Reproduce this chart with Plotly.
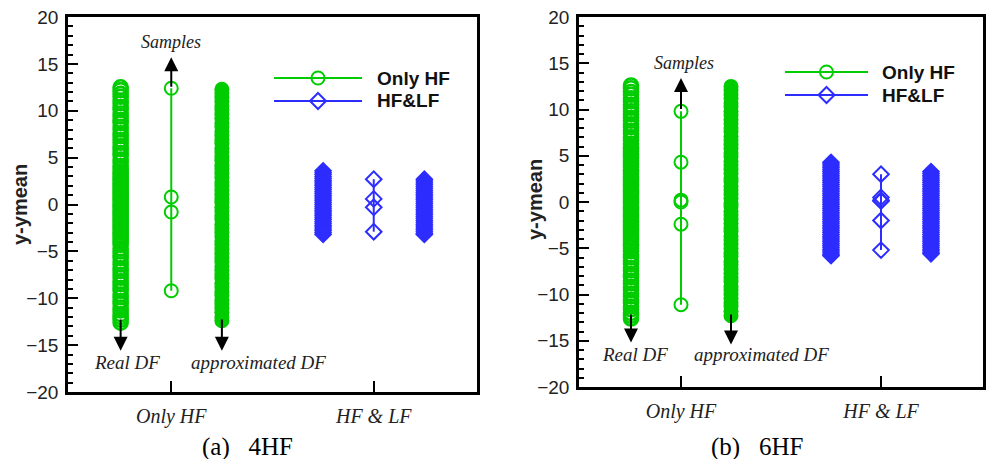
import plotly.graph_objects as go

W, H = 989, 459
def px(x): return x / W
def py(y): return 1 - y / H

GREEN = '#00cc00'
BLUE = '#2d2dff'

# category axis
cat_vals = [1, 2]
cat_text = ['Only HF', 'HF &amp; LF']
# sub-positions within categories
POS_REAL, POS_SAMP_HF, POS_APPROX = 0.75, 1.0, 1.25
POS_BLUE_L, POS_SAMP_LF, POS_BLUE_R = 1.75, 2.0, 2.25

# ---------- panel (a) 4HF ----------
real_a = [12.5, 12.2, 11.8, 11.5, 11.1, 10.8, 10.4, 10.1, 9.7, 9.4, 9.0, 8.7, 8.3, 8.0, 7.6,
          7.3, 6.9, 6.6, 6.2, 5.9, 5.5, 5.2, 4.8, 4.5, 4.1, 3.8, 3.5,
          3.25, 3.0, 2.75, 2.5, 2.25, 2.0, 1.75, 1.5, 1.25, 1.0, 0.75, 0.5, 0.25, 0.0,
          -0.25, -0.5, -0.75, -1.0, -1.25, -1.5, -1.75, -2.0, -2.25, -2.5, -2.75, -3.0,
          -3.25, -3.5, -3.75, -4.0,
          -4.3, -4.7, -5.0, -5.4, -5.7, -6.1, -6.4, -6.8, -7.1, -7.5, -7.8, -8.2, -8.5,
          -8.9, -9.2, -9.6, -9.9, -10.3, -10.6, -11.0, -11.3, -11.7, -12.0, -12.3, -12.6]
approx_a = [12.3, 11.9, 11.4, 11.0, 10.5, 10.1, 9.6, 9.2, 8.7, 8.3, 7.8, 7.4, 6.9, 6.5, 6.0,
            5.6, 5.1, 4.7, 4.2, 3.8, 3.3, 2.9, 2.4, 2.0, 1.5, 1.1, 0.6, 0.2, -0.3, -0.7, -1.2,
            -1.6, -2.1, -2.5, -3.0, -3.4, -3.9, -4.3, -4.8, -5.2, -5.7, -6.1, -6.6, -7.0, -7.5,
            -7.9, -8.4, -8.8, -9.3, -9.7, -10.2, -10.6, -11.1, -11.5, -12.0, -12.4]
samp_hf_a = [12.4, 0.8, -0.8, -9.2]
blue_l_a = [3.6, 3.4, 3.2, 3.0, 2.8, 2.6, 2.4, 2.2, 2.0, 1.8, 1.6, 1.4, 1.2, 1.0, 0.8, 0.6,
            0.4, 0.2, 0.0, -0.2, -0.4, -0.6, -0.8, -1.0, -1.2, -1.4, -1.6, -1.8, -2.0, -2.2,
            -2.4, -2.6, -2.8, -3.0, -3.2]
samp_lf_a = [2.7, 0.6, -0.3, -2.9]
blue_r_a = [2.7, 2.5, 2.3, 2.1, 1.9, 1.7, 1.5, 1.3, 1.1, 0.9, 0.7, 0.5, 0.3, 0.1, -0.1, -0.3,
            -0.5, -0.7, -0.9, -1.1, -1.3, -1.5, -1.7, -1.9, -2.1, -2.3, -2.5, -2.7, -2.9,
            -3.1, -3.2]

# ---------- panel (b) 6HF ----------
real_b = [12.6, 12.3, 11.9, 11.6, 11.2, 10.9, 10.5, 10.2, 9.8, 9.5, 9.1, 8.8, 8.4, 8.1, 7.7,
          7.4, 7.0, 6.7, 6.3, 6.0,
          5.75, 5.5, 5.25, 5.0, 4.75, 4.5, 4.25, 4.0, 3.75, 3.5, 3.25, 3.0, 2.75, 2.5, 2.25,
          2.0, 1.75, 1.5, 1.25, 1.0, 0.75, 0.5, 0.25, 0.0, -0.25, -0.5, -0.75, -1.0, -1.25,
          -1.5, -1.75, -2.0, -2.25, -2.5, -2.75, -3.0, -3.25, -3.5, -3.75, -4.0, -4.25,
          -4.5, -4.75, -5.0,
          -5.3, -5.7, -6.0, -6.4, -6.7, -7.1, -7.4, -7.8, -8.1, -8.5, -8.8, -9.2, -9.5,
          -9.9, -10.2, -10.6, -10.9, -11.3, -11.6, -12.0, -12.3, -12.6]
approx_b = [12.5, 12.1, 11.6, 11.2, 10.7, 10.3, 9.8, 9.4, 8.9, 8.5, 8.0, 7.6, 7.1, 6.7, 6.2,
            5.8, 5.3, 4.9, 4.4, 4.0, 3.5, 3.1, 2.6, 2.2, 1.7, 1.3, 0.8, 0.4, -0.1, -0.5, -1.0,
            -1.4, -1.9, -2.3, -2.8, -3.2, -3.7, -4.1, -4.6, -5.0, -5.5, -5.9, -6.4, -6.8, -7.3,
            -7.7, -8.2, -8.6, -9.1, -9.5, -10.0, -10.4, -10.9, -11.3, -11.8, -12.3]
samp_hf_b = [9.8, 4.3, 0.2, 0.0, -2.4, -11.1]
blue_l_b = [4.3, 4.1, 3.9, 3.7, 3.5, 3.3, 3.1, 2.9, 2.7, 2.5, 2.3, 2.1, 1.9, 1.7, 1.5, 1.3,
            1.1, 0.9, 0.7, 0.5, 0.3, 0.1, -0.1, -0.3, -0.5, -0.7, -0.9, -1.1, -1.3, -1.5,
            -1.7, -1.9, -2.1, -2.3, -2.5, -2.7, -2.9, -3.1, -3.3, -3.5, -3.7, -3.9, -4.1,
            -4.3, -4.5, -4.7, -4.9, -5.1, -5.3, -5.5, -5.7, -5.8]
samp_lf_b = [3.0, 0.5, 0.2, 0.1, -2.0, -5.2]
blue_r_b = [3.3, 3.1, 2.9, 2.7, 2.5, 2.3, 2.1, 1.9, 1.7, 1.5, 1.3, 1.1, 0.9, 0.7, 0.5, 0.3,
            0.1, -0.1, -0.3, -0.5, -0.7, -0.9, -1.1, -1.3, -1.5, -1.7, -1.9, -2.1, -2.3,
            -2.5, -2.7, -2.9, -3.1, -3.3, -3.5, -3.7, -3.9, -4.1, -4.3, -4.5, -4.7, -4.9,
            -5.1, -5.3, -5.5, -5.6]

y_ticks = [-20, -15, -10, -5, 0, 5, 10, 15, 20]

fig = go.Figure()

def add_panel(xa, ya, real, approx, samp_hf, blue_l, samp_lf, blue_r):
    common = dict(xaxis=xa, yaxis=ya, showlegend=False, hoverinfo='skip')
    fig.add_trace(go.Scatter(x=[POS_REAL] * len(real), y=real, mode='markers',
                             marker=dict(symbol='circle-open', size=14, color=GREEN,
                                         line=dict(width=2.6, color=GREEN)), **common))
    fig.add_trace(go.Scatter(x=[POS_APPROX] * len(approx), y=approx, mode='markers',
                             marker=dict(symbol='circle', size=15, color=GREEN,
                                         line=dict(width=0)), **common))
    fig.add_trace(go.Scatter(x=[POS_SAMP_HF] * len(samp_hf), y=samp_hf, mode='lines+markers',
                             line=dict(color=GREEN, width=2),
                             marker=dict(symbol='circle-open', size=13, color=GREEN,
                                         line=dict(width=2, color=GREEN)), **common))
    fig.add_trace(go.Scatter(x=[POS_BLUE_L] * len(blue_l), y=blue_l, mode='markers',
                             marker=dict(symbol='diamond', size=14, color=BLUE,
                                         line=dict(width=0)), **common))
    fig.add_trace(go.Scatter(x=[POS_BLUE_R] * len(blue_r), y=blue_r, mode='markers',
                             marker=dict(symbol='diamond', size=14, color=BLUE,
                                         line=dict(width=0)), **common))
    fig.add_trace(go.Scatter(x=[POS_SAMP_LF] * len(samp_lf), y=samp_lf, mode='lines+markers',
                             line=dict(color=BLUE, width=2),
                             marker=dict(symbol='diamond-open', size=12, color=BLUE,
                                         line=dict(width=2, color=BLUE)), **common))

add_panel('x', 'y', real_a, approx_a, samp_hf_a, blue_l_a, samp_lf_a, blue_r_a)
add_panel('x2', 'y2', real_b, approx_b, samp_hf_b, blue_l_b, samp_lf_b, blue_r_b)

def xaxis_cfg(domain, anchor):
    return dict(domain=domain, anchor=anchor, range=[0.49, 2.51], tickvals=cat_vals,
                ticktext=['<i>%s</i>' % t for t in cat_text], ticks='inside', ticklen=11,
                tickwidth=2, tickcolor='black', showline=True, linewidth=2.5,
                linecolor='black', mirror=True, showgrid=False, zeroline=False,
                tickfont=dict(family='Liberation Serif', size=20, color='#222'),
                ticklabelstandoff=4, fixedrange=True, automargin=False)

def yaxis_cfg(domain, anchor):
    return dict(domain=domain, anchor=anchor, range=[-20, 20], tickvals=y_ticks,
                ticks='inside', ticklen=10, tickwidth=2, tickcolor='black',
                minor=dict(dtick=1, ticks='inside', ticklen=5, tickwidth=1.5, tickcolor='black'),
                showline=True, linewidth=2.5, linecolor='black', mirror=True,
                showgrid=False, zeroline=False,
                tickfont=dict(family='Liberation Sans', size=19, color='#222'),
                ticklabelstandoff=3, fixedrange=True, automargin=False)

fig.update_layout(
    width=W, height=H, margin=dict(l=0, r=0, t=0, b=0, autoexpand=False),
    paper_bgcolor='white', plot_bgcolor='white', showlegend=False,
    xaxis=xaxis_cfg([px(68), px(477)], 'y'),
    yaxis=yaxis_cfg([py(392), py(17)], 'x'),
    xaxis2=xaxis_cfg([px(579), px(983)], 'y2'),
    yaxis2=yaxis_cfg([py(387), py(17)], 'x2'),
)

ann = []
shapes = []
serif_it = dict(family='Liberation Serif', size=19, color='#222')

def arrow(xr, yr, x, tail, tip):
    ann.append(dict(xref=xr, yref=yr, axref=xr, ayref=yr, x=x, y=tip, ax=x, ay=tail,
                    text='', showarrow=True, arrowhead=2, arrowsize=1.4, arrowwidth=2,
                    arrowcolor='black', standoff=0, startstandoff=0))

def label(xr, yr, x, y, text, size=19):
    f = dict(serif_it); f['size'] = size
    ann.append(dict(xref=xr, yref=yr, x=x, y=y, text='<i>%s</i>' % text, showarrow=False,
                    font=f, xanchor='center', yanchor='middle'))

# panel a annotations
arrow('x', 'y', POS_SAMP_HF, 12.4, 15.7)
arrow('x', 'y', POS_REAL, -12.1, -15.6)
arrow('x', 'y', POS_APPROX, -12.1, -15.6)
label('x', 'y', 1.0, 17.3, 'Samples', 18)
label('x', 'y', 0.78, -16.9, 'Real DF')
label('x', 'y', 1.43, -16.9, 'approximated DF')
# panel b annotations
arrow('x2', 'y2', POS_SAMP_HF, 9.9, 13.4)
arrow('x2', 'y2', POS_REAL, -12.0, -15.2)
arrow('x2', 'y2', POS_APPROX, -12.0, -15.4)
label('x2', 'y2', 1.015, 15.0, 'Samples', 18)
label('x2', 'y2', 0.772, -16.5, 'Real DF')
label('x2', 'y2', 1.40, -16.5, 'approximated DF')

# y axis titles
for cx, cy in [(20, 205), (535, 200)]:
    ann.append(dict(xref='paper', yref='paper', x=px(cx), y=py(cy), text='<b>y-ymean</b>',
                    textangle=-90, showarrow=False, xanchor='center', yanchor='middle',
                    font=dict(family='Liberation Sans', size=20, color='#222')))

# captions
for cx, txt in [(248, '(a)\u00a0\u00a0\u00a04HF'), (757, '(b)\u00a0\u00a0\u00a06HF')]:
    ann.append(dict(xref='paper', yref='paper', x=px(cx), y=py(447), text=txt,
                    showarrow=False, xanchor='center', yanchor='middle',
                    font=dict(family='Liberation Serif', size=25, color='black')))

# custom legends
def legend(x0, x1, yg, yb, xt):
    xm = (x0 + x1) / 2
    shapes.append(dict(type='line', xref='paper', yref='paper', x0=px(x0), x1=px(x1),
                       y0=py(yg), y1=py(yg), line=dict(color=GREEN, width=2)))
    shapes.append(dict(type='circle', xref='paper', yref='paper', x0=px(xm - 6.5),
                       x1=px(xm + 6.5), y0=py(yg + 6.5), y1=py(yg - 6.5),
                       line=dict(color=GREEN, width=2)))
    shapes.append(dict(type='line', xref='paper', yref='paper', x0=px(x0), x1=px(x1),
                       y0=py(yb), y1=py(yb), line=dict(color=BLUE, width=2)))
    r = 8
    path = 'M %f,%f L %f,%f L %f,%f L %f,%f Z' % (px(xm - r), py(yb), px(xm), py(yb - r),
                                                  px(xm + r), py(yb), px(xm), py(yb + r))
    shapes.append(dict(type='path', xref='paper', yref='paper', path=path,
                       line=dict(color=BLUE, width=2)))
    for yy, t in [(yg, 'Only HF'), (yb, 'HF&amp;LF')]:
        ann.append(dict(xref='paper', yref='paper', x=px(xt), y=py(yy), text='<b>%s</b>' % t,
                        showarrow=False, xanchor='left', yanchor='middle',
                        font=dict(family='Liberation Sans', size=19, color='#111')))

legend(274, 362, 78, 101, 375)
legend(785, 868, 72, 95, 880)

fig.update_layout(annotations=ann, shapes=shapes)
fig.write_html('out.html')
